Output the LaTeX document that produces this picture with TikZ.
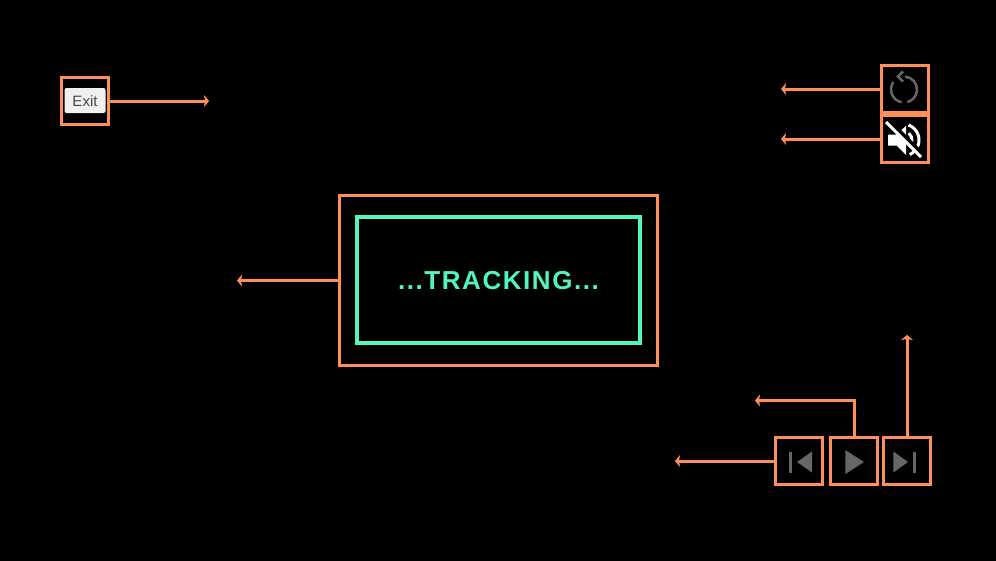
\documentclass[tikz,border=0pt]{standalone}
\usepackage{fontspec}
\setmainfont{Liberation Sans}
\newfontfamily\trackfont[LetterSpace=6]{Liberation Sans}
\usetikzlibrary{arrows.meta}
\definecolor{orangeline}{HTML}{FF8E58}
\definecolor{mintline}{HTML}{52F5BE}
\definecolor{icongrey}{HTML}{666666}
\tikzset{
	btnbox/.style={draw=orangeline,line width=3pt,minimum size=47pt,inner sep=0pt},
	callout/.style={draw=orangeline,line width=3pt,-{Stealth[length=5pt,width=12pt,inset=1pt]}},
	icon/.style={fill=icongrey,draw=none},
	iconline/.style={draw=icongrey,line width=2.5pt},
	muteline/.style={draw=white,line width=3pt},
}
\begin{document}
\begin{tikzpicture}[x=1pt,y=-1pt]
		\useasboundingbox (0,0) rectangle (996,560);
		\fill [black] (-5,-5) rectangle (1001,565);
		% the buttons
		\node [btnbox] (exit) at (85,101) {};
		\node [btnbox] (reload) at (905,89) {};
		\node [btnbox] (mute) at (905,139) {};
		\node [btnbox] (prev) at (799,461) {};
		\node [btnbox] (play) at (854,461) {};
		\node [btnbox] (next) at (907,461) {};
		\node [fill=white!94!black,rounded corners=2pt,minimum width=41pt,minimum height=25pt,inner sep=0pt,text height=14pt,text depth=2pt,text=black!72,font=\fontsize{15}{15}\selectfont] (exitlabel) at (85,100.5) {Exit};
		% tracking panel
		\node [draw=orangeline,line width=3pt,minimum width=318pt,minimum height=170pt] (panel) at (498.5,280.5) {};
		\node [draw=mintline,line width=4pt,minimum width=283pt,minimum height=126pt,text height=21pt,text depth=2pt,text=mintline,font=\fontsize{26}{26}\trackfont\bfseries] (tracking) at (498.5,280) {...TRACKING...};
		% free ends of the arrows
		\coordinate (exitend) at (209,101);
		\coordinate (reloadend) at (781,89);
		\coordinate (muteend) at (781,139);
		\coordinate (panelend) at (237,280.5);
		\coordinate (prevend) at (675,461);
		\coordinate (playend) at (755,400.5);
		\coordinate (nextend) at (907,335);
		\draw [callout] (exit) ++(23.5,0) -- (exitend);
		\draw [callout] (reload.west) -- (reloadend);
		\draw [callout] (mute.west) -- (muteend);
		\draw [callout] (panel.west) -- (panelend);
		\draw [callout] (prev.west) -- (prevend);
		\draw [callout] (play.north) |- (playend);
		\draw [callout] (next.north) -- (nextend);
		% reload icon
		\coordinate (reloadmid) at (904,89.5);
		\draw [iconline] ([shift={(85:13pt)}]reloadmid) arc[start angle=85,end angle=-75,radius=13pt];
		\draw [iconline] ([shift={(-100:13pt)}]reloadmid) arc[start angle=-100,end angle=-215,radius=13pt];
		\draw [iconline] (903,71.5) -- (898,76.5) -- (903,81.5);
		% mute icon
		\fill [white] (888,134.5) -- (896.5,134.5) -- (906,126) -- (906,155) -- (896.5,145.5) -- (888,145.5) -- cycle;
		\coordinate (mutemid) at (903,140);
		\draw [muteline] ([shift={(50:9pt)}]mutemid) arc[start angle=50,end angle=-50,radius=9pt];
		\draw [muteline] ([shift={(70:16pt)}]mutemid) arc[start angle=70,end angle=-65,radius=16pt];
		\draw [black,line width=5pt] (888,120.5) -- (922,154.5);
		\draw [muteline] (886,122) -- (921,157);
		% transport icons
		\fill [icon] (prev.center) ++(-9.7,-9.5) rectangle ++(2.2,21);
		\fill [icon] (prev.center) ++(-2,1) -- ++(15,-10.5) -- ++(0,21) -- cycle;
		\fill [icon] (play.center) ++(-8.7,-11) -- ++(18.7,12) -- ++(-18.7,12) -- cycle;
		\fill [icon] (next.center) ++(-13.7,-9.5) -- ++(14.7,10.5) -- ++(-14.7,10.5) -- cycle;
		\fill [icon] (next.center) ++(6.3,-9.5) rectangle ++(2.5,21);
\end{tikzpicture}
\end{document}
